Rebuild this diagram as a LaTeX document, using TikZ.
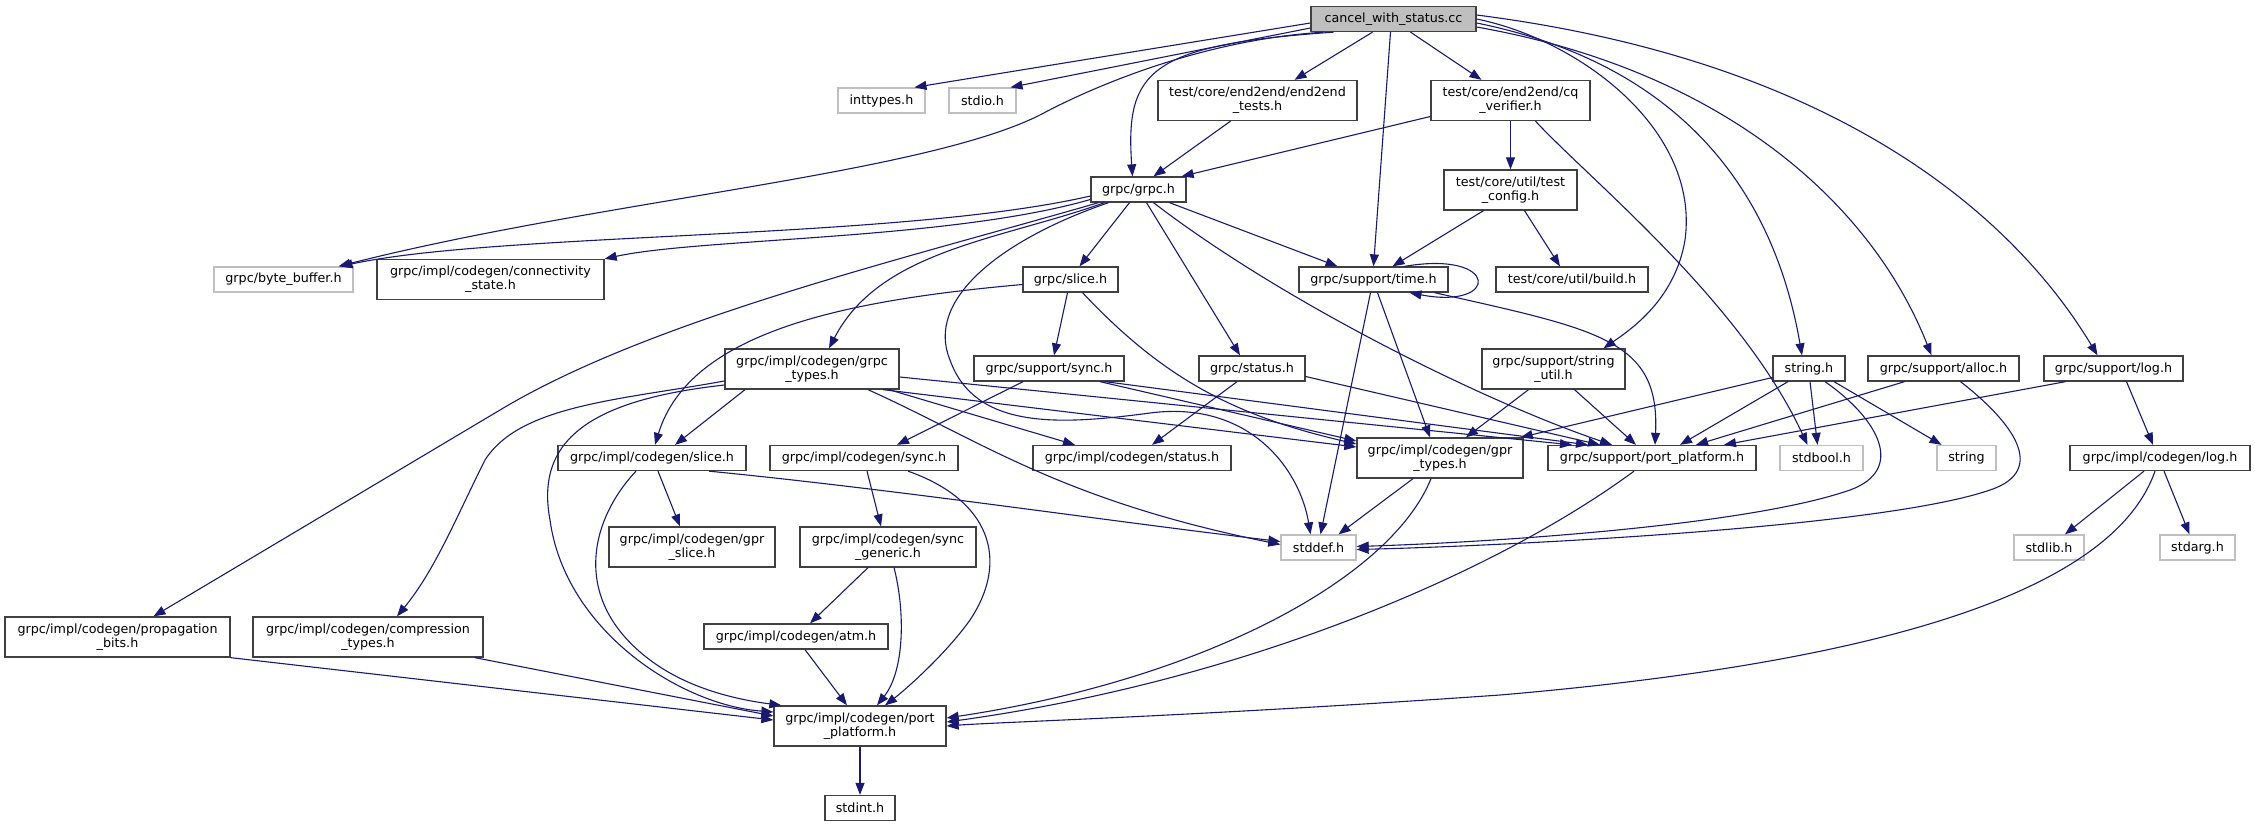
\documentclass[tikz,border=0pt]{standalone}
\usepackage{fontspec}
\setmainfont{DejaVu Sans}
\usepackage{tikz}
\usetikzlibrary{arrows.meta,positioning}
\definecolor{edgeblue}{HTML}{191970}
\definecolor{boxline}{HTML}{404040}
\definecolor{sysline}{HTML}{BFBFBF}
\definecolor{curfill}{HTML}{BFBFBF}
\tikzset{
  hdr/.style={draw=boxline, fill=white, line width=1.3pt, inner sep=0pt, minimum height=25pt,
    align=center, font=\fontsize{12.7pt}{14pt}\selectfont},
  twoline/.style={minimum height=40pt},
  syshdr/.style={hdr, draw=sysline},
  curfile/.style={hdr, fill=curfill},
  incl/.style={draw=edgeblue, line width=1.1pt, -{Triangle[length=12pt,width=9pt]}},
}
\begin{document}
\begin{tikzpicture}[x=1pt,y=-1pt]
        \useasboundingbox (0,0) rectangle (2255,827);

        % Top file and its direct includes
        \node [curfile, minimum width=165pt] (cancel) at (1393.5,19) {cancel\_with\_status.cc};
        \node [syshdr, minimum width=87pt] (inttypes) at (881.5,100.5) {inttypes.h};
        \node [syshdr, minimum width=67pt] (stdio) at (982.5,100.5) {stdio.h};
        \node [hdr, twoline, minimum width=199pt] (e2etests) at (1257.5,100.5) {test/core/end2end/end2end\\\_tests.h};
        \node [hdr, twoline, minimum width=159pt] (cqverifier) at (1510.5,100.5) {test/core/end2end/cq\\\_verifier.h};
        \node [hdr, minimum width=95pt] (grpch) at (1138.5,189.5) {grpc/grpc.h};
        \node [hdr, twoline, minimum width=133pt] (testconfig) at (1510.5,190) {test/core/util/test\\\_config.h};

        \node [syshdr, minimum width=139pt] (bytebuf) at (283.5,279.5) {grpc/byte\_buffer.h};
        \node [hdr, twoline, minimum width=227pt] (connstate) at (490.5,279.5) {grpc/impl/codegen/connectivity\\\_state.h};
        \node [hdr, minimum width=95pt] (sliceh) at (1070.5,279.5) {grpc/slice.h};
        \node [hdr, minimum width=149pt] (timeh) at (1373.5,279.5) {grpc/support/time.h};
        \node [hdr, minimum width=152pt] (buildh) at (1572,279.5) {test/core/util/build.h};

        \node [hdr, twoline, minimum width=174pt] (grpctypes) at (812,369) {grpc/impl/codegen/grpc\\\_types.h};
        \node [hdr, minimum width=150pt] (synch) at (1049,368.5) {grpc/support/sync.h};
        \node [hdr, minimum width=106pt] (statush) at (1252,368.5) {grpc/status.h};
        \node [hdr, twoline, minimum width=143pt] (strutil) at (1553.5,369) {grpc/support/string\\\_util.h};
        \node [hdr, minimum width=72pt] (stringh) at (1809,368.5) {string.h};
        \node [hdr, minimum width=151pt] (alloch) at (1943.5,368.5) {grpc/support/alloc.h};
        \node [hdr, minimum width=139pt] (logh) at (2113.5,368.5) {grpc/support/log.h};

        % codegen layer
        \node [hdr, minimum width=188pt] (cgslice) at (652,458) {grpc/impl/codegen/slice.h};
        \node [hdr, minimum width=188pt] (cgsync) at (864,458) {grpc/impl/codegen/sync.h};
        \node [hdr, minimum width=198pt] (cgstatus) at (1132,458) {grpc/impl/codegen/status.h};
        \node [hdr, twoline, minimum width=166pt] (gprtypes) at (1440,458) {grpc/impl/codegen/gpr\\\_types.h};
        \node [hdr, minimum width=208pt] (spport) at (1652,458) {grpc/support/port\_platform.h};
        \node [syshdr, minimum width=83pt] (stdbool) at (1821.5,458) {stdbool.h};
        \node [syshdr, minimum width=59pt] (stringsys) at (1966.5,458) {string};
        \node [hdr, minimum width=180pt] (cglog) at (2160,458) {grpc/impl/codegen/log.h};

        \node [hdr, twoline, minimum width=166pt] (gprslice) at (692,547) {grpc/impl/codegen/gpr\\\_slice.h};
        \node [hdr, twoline, minimum width=176pt] (syncgen) at (888,547) {grpc/impl/codegen/sync\\\_generic.h};
        \node [syshdr, minimum width=75pt] (stddef) at (1318.5,547.5) {stddef.h};
        \node [syshdr, minimum width=70pt] (stdlib) at (2049,547.5) {stdlib.h};
        \node [syshdr, minimum width=75pt] (stdarg) at (2197.5,547.5) {stdarg.h};

        \node [hdr, twoline, minimum width=225pt] (propbits) at (117.5,637) {grpc/impl/codegen/propagation\\\_bits.h};
        \node [hdr, twoline, minimum width=230pt] (comptypes) at (368,637) {grpc/impl/codegen/compression\\\_types.h};
        \node [hdr, minimum width=184pt] (atm) at (796,636.5) {grpc/impl/codegen/atm.h};
        \node [hdr, twoline, minimum width=172pt] (cgport) at (860,726) {grpc/impl/codegen/port\\\_platform.h};
        \node [hdr, minimum width=70pt] (stdint) at (860,808) {stdint.h};

        % includes of cancel_with_status.cc
        \draw [incl] ([yshift=-4pt]cancel.west) -- ([xshift=33pt]inttypes.north);
        \draw [incl] ([yshift=-9pt]cancel.west) -- ([xshift=28pt]stdio.north);
        \draw [incl] ([xshift=-70pt]cancel.south) .. controls (1200,40) and (1090,88) .. (1040,115)
                     .. controls (920,175) and (600,200) .. ([xshift=55pt]bytebuf.north);
        \draw [incl] ([xshift=-60pt]cancel.south) .. controls (1150,45) and (1125,70) .. ([xshift=-6pt]grpch.north);
        \draw [incl] ([xshift=-21pt]cancel.south) -- ([xshift=37pt]e2etests.north);
        \draw [incl] ([xshift=17pt]cancel.south) -- ([xshift=-29pt]cqverifier.north);
        \draw [incl] ([xshift=-3pt]cancel.south) -- (timeh.north);
        \draw [incl] (cancel.east) .. controls (1580,40) and (1700,130) .. (1685,240)
                     .. controls (1675,300) and (1630,330) .. ([xshift=50pt]strutil.north);
        \draw [incl] ([yshift=-4pt]cancel.east) .. controls (1660,60) and (1770,170) .. ([xshift=-7pt]stringh.north);
        \draw [incl] ([yshift=-8pt]cancel.east) .. controls (1720,70) and (1870,200) .. ([xshift=-12pt]alloch.north);
        \draw [incl] ([yshift=4pt]cancel.east) .. controls (1830,60) and (2010,210) .. ([xshift=-16pt]logh.north);

        % test headers
        \draw [incl] ([xshift=-27pt]e2etests.south) -- ([xshift=15pt]grpch.north);
        \draw [incl] ([yshift=-16pt]cqverifier.west) -- ([xshift=-5pt]grpch.north east);
        \draw [incl] (cqverifier.south) -- (testconfig.north);
        \draw [incl] ([xshift=25pt]cqverifier.south) .. controls (1590,180) and (1740,300) .. ([xshift=-14pt]stdbool.north);
        \draw [incl] ([xshift=-27pt]testconfig.south) -- ([xshift=19pt]timeh.north);
        \draw [incl] ([xshift=14pt]testconfig.south) -- ([xshift=-12pt]buildh.north);

        % grpc/grpc.h
        \draw [incl] ([yshift=-6.5pt]grpch.west) .. controls (900,240) and (500,232) .. ([xshift=57pt]bytebuf.north);
        \draw [incl] ([yshift=-10pt]grpch.west) .. controls (950,240) and (700,238) .. (connstate.north east);
        \draw [incl] ([xshift=-40pt]grpch.south) .. controls (900,260) and (650,320) .. (500,410) -- ([xshift=36pt]propbits.north);
        \draw [incl] ([xshift=-34pt]grpch.south) .. controls (1000,240) and (880,250) .. ([xshift=17pt]grpctypes.north);
        \draw [incl] ([xshift=-9pt]grpch.south) -- ([xshift=9pt]sliceh.north);
        \draw [incl] ([xshift=31pt]grpch.south) -- ([xshift=-36pt]timeh.north);
        \draw [incl] ([xshift=8pt]grpch.south) -- ([xshift=-12pt]statush.north);
        \draw [incl] ([xshift=15pt]grpch.south) .. controls (1280,300) and (1480,400) .. ([xshift=-40pt]spport.north);
        \draw [incl] ([xshift=-30pt]grpch.south) .. controls (1000,240) and (925,300) .. (950,360)
                     .. controls (975,430) and (1060,425) .. (1150,413)
                     .. controls (1250,400) and (1300,470) .. ([xshift=-8pt]stddef.north);

        % grpc/slice.h and grpc/support/time.h
        \draw [incl] ([yshift=-5pt]sliceh.west) .. controls (850,300) and (690,330) .. ([xshift=3pt]cgslice.north);
        \draw [incl] ([xshift=-3pt]sliceh.south) -- ([xshift=5pt]synch.north);
        \draw [incl] ([xshift=12pt]sliceh.south) .. controls (1160,375) and (1230,415) .. ([yshift=14pt]gprtypes.west);
        \draw [incl] ([xshift=31pt]timeh.north) .. controls (1500,250) and (1500,310) .. ([xshift=36pt]timeh.south);
        \draw [incl] ([xshift=-3pt]timeh.south) -- ([xshift=2pt]stddef.north);
        \draw [incl] ([xshift=4pt]timeh.south) -- ([xshift=-10pt]gprtypes.north);
        \draw [incl] ([xshift=61pt]timeh.south) .. controls (1600,330) and (1660,340) .. ([xshift=3pt]spport.north);

        % grpc/impl/codegen/grpc_types.h
        \draw [incl] ([xshift=-67pt]grpctypes.south) -- ([xshift=23pt]cgslice.north);
        \draw [incl] ([yshift=-12pt]grpctypes.west) .. controls (620,400) and (520,405) .. (485,460)
                     .. controls (455,520) and (435,570) .. ([xshift=29pt]comptypes.north);
        \draw [incl] ([yshift=-16pt]grpctypes.west) .. controls (590,400) and (535,440) .. (550,520)
                     .. controls (565,630) and (680,705) .. ([yshift=14pt]cgport.west);
        \draw [incl] ([xshift=77pt]grpctypes.south) -- ([xshift=-57pt]cgstatus.north);
        \draw [incl] ([xshift=56pt]grpctypes.south) .. controls (980,440) and (1060,500) .. ([yshift=3pt]stddef.west);
        \draw [incl] ([xshift=71pt]grpctypes.south) -- ([yshift=11pt]gprtypes.west);
        \draw [incl] ([yshift=-8pt]grpctypes.east) -- ([xshift=-80pt]spport.north);

        % second row of support headers
        \draw [incl] ([xshift=-26pt]synch.south) -- ([xshift=33pt]cgsync.north);
        \draw [incl] ([xshift=51pt]synch.south) -- ([yshift=17pt]gprtypes.west);
        \draw [incl] ([xshift=56pt]synch.south) -- ([xshift=-64pt]spport.north);
        \draw [incl] ([xshift=-15pt]statush.south) -- ([xshift=20pt]cgstatus.north);
        \draw [incl] ([yshift=-8pt]statush.east) -- ([xshift=-52pt]spport.north);
        \draw [incl] ([xshift=-25pt]strutil.south) -- ([xshift=26pt]gprtypes.north);
        \draw [incl] ([xshift=21pt]strutil.south) -- ([xshift=-16pt]spport.north);
        \draw [incl] ([yshift=-9pt]stringh.west) -- ([xshift=-3pt]gprtypes.north east);
        \draw [incl] ([xshift=-21pt]stringh.south) -- ([xshift=28pt]spport.north);
        \draw [incl] ([xshift=1pt]stringh.south) -- ([xshift=-4pt]stdbool.north);
        \draw [incl] ([xshift=16pt]stringh.south) .. controls (1880,420) and (1905,470) .. (1850,490)
                     .. controls (1750,525) and (1500,542) .. ([yshift=1pt]stddef.east);
        \draw [incl] ([xshift=25pt]stringh.south) -- ([xshift=-25pt]stringsys.north);
        \draw [incl] ([xshift=-39pt]alloch.south) -- ([xshift=44pt]spport.north);
        \draw [incl] ([xshift=17pt]alloch.south) .. controls (2010,420) and (2050,470) .. (1990,490)
                     .. controls (1880,528) and (1500,546) .. ([yshift=-2pt]stddef.east);
        \draw [incl] ([xshift=13pt]logh.south) -- ([xshift=-7pt]cglog.north);
        \draw [incl] ([xshift=-48pt]logh.south) -- ([xshift=72pt]spport.north);

        % codegen headers down to port_platform
        \draw [incl] ([xshift=6pt]cgslice.south) -- ([xshift=-12pt]gprslice.north);
        \draw [incl] ([xshift=57pt]cgslice.south) .. controls (900,490) and (1100,520) .. ([yshift=6pt]stddef.west);
        \draw [incl] ([xshift=-16pt]cgslice.south) .. controls (590,520) and (570,600) .. (650,660)
                     .. controls (690,690) and (740,700) .. ([xshift=8pt]cgport.north west);
        \draw [incl] ([xshift=3pt]cgsync.south) -- ([xshift=-7pt]syncgen.north);
        \draw [incl] ([xshift=44pt]cgsync.south) .. controls (990,500) and (1010,560) .. (970,620)
                     .. controls (945,655) and (905,690) .. ([xshift=25pt]cgport.north);
        \draw [incl] ([xshift=-20pt]syncgen.south) -- ([xshift=14pt]atm.north);
        \draw [incl] ([xshift=6pt]syncgen.south) .. controls (905,610) and (905,670) .. ([xshift=17pt]cgport.north);
        \draw [incl] ([xshift=9pt]atm.south) -- ([xshift=-13pt]cgport.north);
        \draw [incl] ([xshift=-27pt]gprtypes.south) -- ([xshift=20pt]stddef.north);
        \draw [incl] ([xshift=-9pt]gprtypes.south) .. controls (1390,580) and (1200,680) .. ([yshift=8pt]cgport.east);
        \draw [incl] ([xshift=-18pt]spport.south) .. controls (1500,570) and (1250,680) .. ([yshift=4pt]cgport.east);
        \draw [incl] ([xshift=-16pt]cglog.south) -- ([xshift=16pt]stdlib.north);
        \draw [incl] ([xshift=4pt]cglog.south) -- ([xshift=-8pt]stdarg.north);
        \draw [incl] ([xshift=-5pt]cglog.south) .. controls (2110,600) and (1850,665) .. (1500,695)
                     .. controls (1200,716) and (1000,722) .. (cgport.east);
        \draw [incl] (propbits.south east) -- ([yshift=6pt]cgport.west);
        \draw [incl] ([xshift=107pt]comptypes.south) -- ([yshift=10pt]cgport.west);
        \draw [incl] (cgport.south) -- (stdint.north);
    \end{tikzpicture}
\end{document}
